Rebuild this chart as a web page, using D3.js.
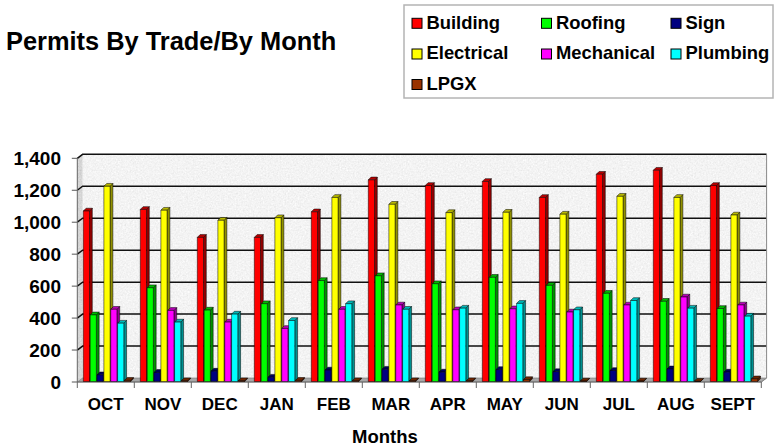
<!DOCTYPE html>
<html>
<head>
<meta charset="utf-8">
<script src="https://cdn.jsdelivr.net/npm/d3@7"></script>
<style>
  body { margin: 0; background: #fff; }
  svg { display: block; font-family: Arial, "Liberation Sans", sans-serif; font-weight: bold; }
</style>
</head>
<body>
<svg width="776" height="448"></svg>
<script>
// data
const months = ["OCT", "NOV", "DEC", "JAN", "FEB", "MAR", "APR", "MAY", "JUN", "JUL", "AUG", "SEPT"];
const series = ["Building", "Roofing", "Sign", "Electrical", "Mechanical", "Plumbing", "LPGX"];
const colors = ["#ff0000", "#00ff00", "#000080", "#ffff00", "#ff00ff", "#00ffff", "#993300"];

const building   = [1070, 1080, 905, 905, 1065, 1265, 1230, 1255, 1155, 1300, 1325, 1230];
const roofing    = [420, 590, 450, 490, 635, 665, 615, 655, 605, 555, 505, 460];
const sign       = [45, 60, 68, 30, 75, 80, 62, 78, 65, 72, 82, 62];
const electrical = [1225, 1075, 1012, 1028, 1155, 1112, 1060, 1062, 1050, 1162, 1155, 1045];
const mechanical = [455, 448, 375, 335, 455, 482, 452, 458, 438, 482, 532, 482];
const plumbing   = [368, 375, 425, 385, 490, 455, 462, 492, 452, 510, 462, 412];
const lpgx       = [10, 8, 8, 10, 8, 8, 8, 15, 6, 6, 4, 20];

const yTicks = [0, 200, 400, 600, 800, 1000, 1200, 1400];

const values = [building, roofing, sign, electrical, mechanical, plumbing, lpgx];

// layout
const plotLeft = 77.3, plotRight = 761.3, plotBottom = 382, plotTop = 158.3;
const wallDx = 5.3, wallDy = -4;   // depth of the walls
const barDx = 2.8, barDy = -2.8;   // depth of each column

const svg = d3.select("svg");

const defs = svg.append("defs");
function granite(id, lo, hi) {
    const f = defs.append("filter").attr("id", id)
        .attr("x", 0).attr("y", 0).attr("width", 1).attr("height", 1);
    f.append("feTurbulence").attr("type", "fractalNoise")
        .attr("baseFrequency", 0.6).attr("numOctaves", 3).attr("seed", 7).attr("result", "n");
    f.append("feColorMatrix").attr("in", "n").attr("type", "matrix")
        .attr("values", "0.33 0.33 0.33 0 0 0.33 0.33 0.33 0 0 0.33 0.33 0.33 0 0 0 0 0 0 1")
        .attr("result", "g");
    const ct = f.append("feComponentTransfer").attr("in", "g").attr("result", "c");
    ["feFuncR", "feFuncG", "feFuncB"].forEach(fn =>
        ct.append(fn).attr("type", "linear").attr("slope", (hi - lo) * 3).attr("intercept", lo - (hi - lo)));
    f.append("feComposite").attr("in", "c").attr("in2", "SourceGraphic").attr("operator", "in");
}
granite("wallTex", 0.83, 0.97);
granite("sideTex", 0.6, 0.74);

const x0 = d3.scaleBand().domain(months).range([plotLeft, plotRight]);
const x1 = d3.scaleBand().domain(series).range([6, 54]);
const y = d3.scaleLinear().domain([0, 1400]).range([plotBottom, plotTop]);

// title
svg.append("text")
    .attr("x", 6).attr("y", 50)
    .attr("font-size", 25.4)
    .text("Permits By Trade/By Month");

// legend
const legend = svg.append("g");
legend.append("rect")
    .attr("x", 404).attr("y", 5).attr("width", 369).attr("height", 93)
    .attr("fill", "#fff").attr("stroke", "#b4b4b4").attr("stroke-width", 1.5);
const legX = [412, 541.5, 671];
const legY = [18.3, 49, 79.5];
const item = legend.selectAll("g.item")
    .data(series)
    .join("g")
    .attr("transform", (d, i) => `translate(${legX[i % 3]},${legY[Math.floor(i / 3)]})`);
item.append("rect")
    .attr("width", 10).attr("height", 10)
    .attr("fill", (d, i) => colors[i])
    .attr("stroke", "#000").attr("stroke-width", 1);
item.append("text")
    .attr("x", 14.5).attr("y", 10.3)
    .attr("font-size", 18.4)
    .text(d => d);

// walls
svg.append("rect")
    .attr("x", plotLeft + wallDx).attr("y", plotTop + wallDy)
    .attr("width", plotRight - plotLeft).attr("height", plotBottom - plotTop)
    .attr("fill", "#e6e6e6").attr("filter", "url(#wallTex)");
svg.append("polygon")
    .attr("points", [[plotLeft, plotTop], [plotLeft + wallDx, plotTop + wallDy],
        [plotLeft + wallDx, plotBottom + wallDy], [plotLeft, plotBottom]].join(" "))
    .attr("fill", "#aaa").attr("filter", "url(#sideTex)");
svg.append("polygon")
    .attr("points", [[plotLeft, plotBottom], [plotLeft + wallDx, plotBottom + wallDy],
        [plotRight + wallDx, plotBottom + wallDy], [plotRight, plotBottom]].join(" "))
    .attr("fill", "#a8a8a8").attr("stroke", "#777").attr("stroke-width", 0.6);

// grid lines on back and side wall
const grid = svg.append("g").attr("stroke", "#111").attr("stroke-width", 1.5).attr("fill", "none");
grid.selectAll("path")
    .data(yTicks.slice(1))
    .join("path")
    .attr("d", t => `M${plotLeft},${y(t)}L${plotLeft + wallDx},${y(t) + wallDy}H${plotRight + wallDx}`);
// outline of back wall right edge
svg.append("path")
    .attr("d", `M${plotRight + wallDx},${plotTop + wallDy}V${plotBottom + wallDy}L${plotRight},${plotBottom}`)
    .attr("stroke", "#888").attr("stroke-width", 1).attr("fill", "none");

// value axis
const yAxis = svg.append("g");
yAxis.append("path")
    .attr("d", `M${plotLeft},${plotTop}V${plotBottom}`)
    .attr("stroke", "#666").attr("stroke-width", 1);
yAxis.selectAll("line")
    .data(yTicks)
    .join("line")
    .attr("x1", plotLeft - 5.5).attr("x2", plotLeft)
    .attr("y1", d => y(d)).attr("y2", d => y(d))
    .attr("stroke", "#555").attr("stroke-width", 1);
yAxis.selectAll("text")
    .data(yTicks)
    .join("text")
    .attr("x", 61).attr("y", d => y(d))
    .attr("dy", "0.36em")
    .attr("text-anchor", "end")
    .attr("font-size", 19)
    .text(d => d3.format(",")(d));

// category axis
const xAxis = svg.append("g");
xAxis.append("path")
    .attr("d", `M${plotLeft},${plotBottom}H${plotRight}`)
    .attr("stroke", "#666").attr("stroke-width", 1);
xAxis.selectAll("line")
    .data(months.map(m => x0(m)).concat([plotRight]))
    .join("line")
    .attr("x1", d => d).attr("x2", d => d)
    .attr("y1", plotBottom).attr("y2", plotBottom + 6)
    .attr("stroke", "#666").attr("stroke-width", 1);
xAxis.selectAll("text")
    .data(months)
    .join("text")
    .attr("x", d => x0(d) + x0.bandwidth() / 2)
    .attr("y", 410)
    .attr("text-anchor", "middle")
    .attr("font-size", 17)
    .text(d => d);
svg.append("text")
    .attr("x", 385).attr("y", 443)
    .attr("text-anchor", "middle")
    .attr("font-size", 18.5)
    .text("Months");

// 3D columns
const bars = [];
months.forEach((m, mi) => {
    series.forEach((s, si) => {
        bars.push({month: m, name: s, color: colors[si], value: values[si][mi]});
    });
});

const barW = 6.2;
const base = plotBottom - 0.5;
const col = svg.append("g")
    .selectAll("g")
    .data(bars)
    .join("g")
    .attr("stroke", "#000").attr("stroke-width", 0.5).attr("stroke-linejoin", "round");

col.append("polygon")   // side face
    .attr("points", d => {
        const x = x0(d.month) + x1(d.name) + barW, top = y(d.value);
        return [[x, top], [x + barDx, top + barDy], [x + barDx, base + barDy], [x, base]].join(" ");
    })
    .attr("fill", d => d3.color(d.color).darker(1.6));
col.append("polygon")   // top face
    .attr("points", d => {
        const x = x0(d.month) + x1(d.name), top = y(d.value);
        return [[x, top], [x + barDx, top + barDy], [x + barW + barDx, top + barDy], [x + barW, top]].join(" ");
    })
    .attr("fill", d => d3.color(d.color).darker(0.9));
col.append("rect")      // front face
    .attr("x", d => x0(d.month) + x1(d.name))
    .attr("y", d => y(d.value))
    .attr("width", barW)
    .attr("height", d => base - y(d.value))
    .attr("fill", d => d.color);
</script>
</body>
</html>
